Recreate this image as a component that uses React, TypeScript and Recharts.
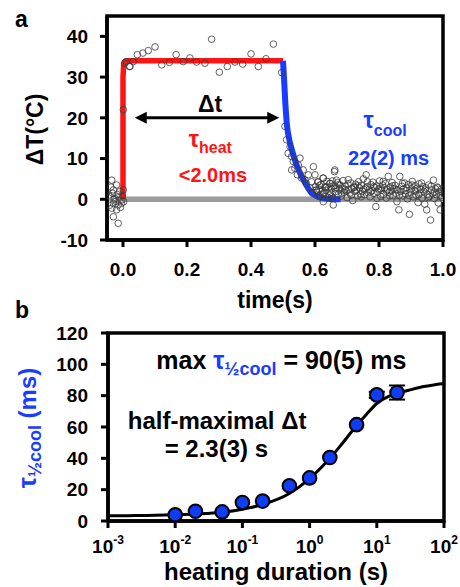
import React from 'react';
import {
  ComposedChart, Line, Scatter, XAxis, YAxis, ReferenceArea, ReferenceLine,
  ReferenceDot, ErrorBar, Label,
} from 'recharts';

const FONT = '"Liberation Sans", Arial, sans-serif';
const BLUE = '#1a3cff';
const DOT_BLUE = '#0f3cf5';
const RED = '#ff1414';
const GRAY = '#9b9b9b';

// ---------- Panel a data ----------
const timeTicks = [0, 0.2, 0.4, 0.6, 0.8, 1.0];
const tempTicks = [-10, 0, 10, 20, 30, 40];

const heatTimes = [0, 0, 0.002, 0.006, 0.012, 0.5];
const heatTemps = [0, 30, 33, 33.8, 34, 34];

const coolTimes = [0.5, 0.503, 0.507, 0.512, 0.52, 0.53, 0.54, 0.55, 0.5625, 0.575, 0.585, 0.6, 0.615, 0.64, 0.68];
const coolTemps = [34, 30, 24, 18.5, 14.5, 11.5, 9, 7, 5, 3.2, 2, 1.0, 0.5, 0.15, 0];

const baseTimes = [0, 1.0];
const baseTemps = [0, 0];

const measured: [number, number][] = [
  // before heating
  [-0.045, 1.0], [-0.042, -1.5], [-0.04, 0.6], [-0.038, 3.0], [-0.035, 4.7], [-0.035, -2.2],
  [-0.033, 1.5], [-0.03, 2.3], [-0.03, -1.0], [-0.03, -4.3], [-0.028, 0.0], [-0.025, 0.2],
  [-0.022, -0.5], [-0.02, 3.5], [-0.02, -2.6], [-0.018, 1.2], [-0.015, 0.6], [-0.015, -1.4],
  [-0.015, -5.9], [-0.012, -0.3], [-0.01, 1.9], [-0.008, -2.0], [-0.005, -1.0], [-0.004, -0.2],
  [-0.002, 0.8], [0.001, 2.3], [0.002, -0.6],
  // heating plateau
  [0.001, 22], [0.005, 33.4], [0.01, 33.8], [0.022, 32.6], [0.032, 33.8], [0.02, 32.6],
  [0.045, 35.5], [0.062, 35.9], [0.079, 36.5], [0.1, 37.4], [0.121, 33.0], [0.145, 33.6],
  [0.166, 35.5], [0.188, 33.8], [0.209, 34.7], [0.23, 33.7], [0.256, 33.4], [0.277, 39.3],
  [0.301, 31.2], [0.326, 32.6], [0.35, 33.7], [0.374, 33.2], [0.4, 35.7], [0.423, 32.6],
  [0.447, 34.5], [0.47, 38.1], [0.496, 31.1],
  // cooling
  [0.506, 17.9], [0.511, 14.6], [0.516, 11.3], [0.522, 12.9], [0.527, 10.5], [0.527, 7.2],
  [0.532, 9.3], [0.537, 7.6], [0.545, 6.0], [0.548, 8.4], [0.553, 10.1], [0.558, 5.2],
  [0.563, 7.2], [0.568, 4.8], [0.573, 3.9], [0.579, 6.0], [0.585, 2.8], [0.589, 4.3],
  [0.592, 1.5], [0.595, 8.0], [0.6, 6.0], [0.604, 2.3], [0.61, 4.3], [0.615, 0.6],
  [0.626, 5.2], [0.626, -0.6], [0.636, 3.1], [0.647, 3.9], [0.652, 0.6], [0.657, -1.4],
  [0.662, 7.2], [0.667, 4.7],
  // tail
  [0.602, 3.1], [0.606, 1.8], [0.609, 4.2], [0.612, 2.5], [0.616, 0.9], [0.619, 3.6],
  [0.622, 2.0], [0.625, 5.2], [0.628, 1.4], [0.631, 3.0], [0.634, 2.2], [0.637, 4.4],
  [0.64, 0.5], [0.643, 2.8], [0.646, 3.9], [0.649, 1.6], [0.652, 2.6], [0.655, 0.2],
  [0.658, 3.3], [0.661, 6.8], [0.664, 1.9], [0.667, 2.9], [0.67, 4.1], [0.673, 1.2],
  [0.676, 2.4], [0.679, 3.5], [0.682, 0.8], [0.685, 2.7], [0.688, 4.6], [0.691, 1.7],
  [0.694, 3.2], [0.697, 2.1], [0.7, 0.4], [0.703, 3.8], [0.706, 2.3], [0.709, 1.5],
  [0.712, 4.0], [0.715, 2.6], [0.718, -0.3], [0.721, 3.0], [0.724, 1.9], [0.727, 3.7],
  [0.73, 2.2], [0.733, 0.9], [0.736, 4.3], [0.739, 2.8], [0.742, 1.3], [0.745, 3.4],
  [0.748, 2.0], [0.751, 5.0], [0.754, 1.1], [0.757, 2.7], [0.76, 6.0], [0.763, 3.1],
  [0.766, 1.6], [0.769, 2.4], [0.772, 0.6], [0.775, 3.6], [0.778, 2.1], [0.781, 4.2],
  [0.784, 1.4], [0.787, 2.9], [0.79, -1.8], [0.793, 3.3], [0.796, 1.8], [0.799, 2.5],
  [0.802, 4.5], [0.805, 0.7], [0.808, 2.2], [0.811, 3.5], [0.814, 1.2], [0.817, 2.8],
  [0.82, 3.9], [0.823, 0.3], [0.826, 2.4], [0.829, 5.6], [0.832, 1.7], [0.835, 3.0],
  [0.838, 2.0], [0.841, 4.1], [0.844, 0.9], [0.847, 2.6], [0.85, 3.4], [0.853, 1.5],
  [0.856, -0.6], [0.859, 2.3], [0.862, -2.6], [0.865, 5.6], [0.868, 1.9], [0.871, 3.2],
  [0.874, 0.8], [0.877, 2.5], [0.88, 4.0], [0.883, 1.3], [0.886, 2.9], [0.889, 0.1],
  [0.892, 3.6], [0.895, -3.7], [0.898, 1.7], [0.901, 2.6], [0.904, 4.4], [0.907, 0.6],
  [0.91, 2.2], [0.913, 3.3], [0.916, 1.0], [0.919, 2.7], [0.922, -0.8], [0.925, 3.8],
  [0.928, 1.5], [0.931, 2.4], [0.934, 0.3], [0.937, 3.1], [0.94, 1.9], [0.943, -1.2],
  [0.946, 2.8], [0.949, -2.6], [0.952, 1.2], [0.955, 3.5], [0.958, 0.7], [0.961, -5.1],
  [0.964, 2.3], [0.967, 1.4], [0.97, 4.7], [0.973, 0.2], [0.976, 2.6], [0.979, 1.1],
  [0.982, 3.0], [0.985, -0.9], [0.988, 1.8], [0.991, -2.6], [0.994, 2.4], [0.997, 0.5],
  [1.0, 1.6],
  [0.604, 2.2], [0.614, 3.4], [0.624, 1.2], [0.633, 2.9], [0.645, 1.0], [0.654, 4.5],
  [0.663, 2.6], [0.674, 3.6], [0.684, 1.5], [0.693, 2.4], [0.704, 4.8], [0.713, 1.0],
  [0.723, 2.9], [0.734, 3.3], [0.744, 0.6], [0.753, 2.4], [0.764, 4.3], [0.774, 1.8],
  [0.783, 3.1], [0.794, 0.2], [0.804, 2.6], [0.813, 4.4], [0.824, 2.0], [0.834, 0.8],
  [0.843, 3.3], [0.854, 2.4], [0.864, 1.0], [0.873, 3.9], [0.884, 2.1], [0.894, 0.9],
  [0.903, 3.5], [0.914, 2.0], [0.924, 1.1], [0.933, 4.0], [0.944, 2.3], [0.954, 0.4],
  [0.963, 3.2], [0.974, 1.8], [0.984, 2.8], [0.993, 0.9],
];

// ---------- Panel b data ----------
const durations = [0.01, 0.02, 0.05, 0.1, 0.2, 0.5, 1, 2, 5, 10, 20];
const tauHalf = [4, 6.2, 5.8, 11.8, 12.7, 22.5, 27.5, 40.5, 61.5, 80.5, 82];
const tauErr = [0, 0, 0, 0, 0, 0, 0, 0, 0, 2, 4.5];

const fitDurations = [0.001, 0.002, 0.005, 0.01, 0.02, 0.05, 0.1, 0.2, 0.5, 1, 2, 3, 5, 7, 10, 15, 20, 30, 50, 100];
const fitTau = [3.3, 3.4, 3.6, 4.0, 4.5, 5.6, 7.5, 10.5, 17.5, 27, 40, 49, 61, 68, 75, 79.5, 81.5, 83.5, 85.8, 87.8];

const durTicks = [0.001, 0.01, 0.1, 1, 10, 100];
const durTickExp = ['-3', '-2', '-1', '0', '1', '2'];
const tauTicks = [0, 20, 40, 60, 80, 100, 120];

// ---------- derived tables ----------
const heatData = heatTimes.map((t, i) => ({ t, v: heatTemps[i] }));
const coolData = coolTimes.map((t, i) => ({ t, v: coolTemps[i] }));
const baseData = baseTimes.map((t, i) => ({ t, v: baseTemps[i] }));
const measuredData = measured.map(([t, v]) => ({ t, v }));

const pointData = durations.map((d, i) => ({ d, tau: tauHalf[i], err: tauErr[i] }));
const fitData = fitDurations.map((d, i) => ({ d, tau: fitTau[i] }));

const tickStyle = { fontSize: 19, fontWeight: 'bold', fill: '#000', fontFamily: FONT };

const OpenCircle = (p: any) => (
  <circle cx={p.cx} cy={p.cy} r={3.3} fill="none" stroke="#3a3a3a" strokeWidth={0.8} />
);
const BlueDot = (p: any) => (
  <circle cx={p.cx} cy={p.cy} r={6.8} fill={DOT_BLUE} stroke="#000" strokeWidth={2} />
);

const txt = (extra: any = {}) => ({ fontFamily: FONT, fontWeight: 'bold', ...extra });

const LogTick = (props: any) => {
  const { x, y, payload } = props;
  const idx = durTicks.indexOf(payload.value);
  return (
    <text x={x} y={y + 23} textAnchor="middle" {...txt({ fill: '#000' })}>
      <tspan fontSize={19}>10</tspan>
      <tspan fontSize={12} dy={-9}>{durTickExp[idx]}</tspan>
    </text>
  );
};

const arrowLeft = (p: any) => (
  <polygon points={`${p.cx - 2},${p.cy} ${p.cx + 10},${p.cy - 6} ${p.cx + 10},${p.cy + 6}`} fill="#000" />
);
const arrowRight = (p: any) => (
  <polygon points={`${p.cx + 2},${p.cy} ${p.cx - 10},${p.cy - 6} ${p.cx - 10},${p.cy + 6}`} fill="#000" />
);

export default function App() {
  return (
    <div style={{ position: 'absolute', left: 0, top: 0, width: 460, height: 587, background: '#fff' }}>
      {/* Panel a */}
      <div style={{ position: 'absolute', left: 0, top: 0 }}>
        <ComposedChart width={460} height={320} margin={{ top: 16, right: 17, left: 0, bottom: 20 }}>
          <XAxis
            dataKey="t" type="number" domain={[-0.05, 1.0]} ticks={timeTicks} allowDataOverflow
            tickFormatter={(v: number) => v.toFixed(1)}
            axisLine={{ stroke: '#000', strokeWidth: 3.5 }} tickLine={{ stroke: '#000', strokeWidth: 3 }}
            tickSize={7} tickMargin={16} tick={tickStyle} height={60} interval={0}
          >
            <Label content={(p: any) => {
              const vb = p.viewBox;
              return (
                <text x={vb.x + vb.width / 2} y={vb.y + 68} textAnchor="middle" fontSize={23} {...txt({ fill: '#000' })}>time(s)</text>
              );
            }} />
          </XAxis>
          <YAxis
            type="number" domain={[-10, 45]} ticks={tempTicks} allowDataOverflow width={107}
            axisLine={{ stroke: '#000', strokeWidth: 3.5 }} tickLine={{ stroke: '#000', strokeWidth: 3 }}
            tickSize={7} tickMargin={12} tick={tickStyle} interval={0}
          >
            <Label content={(p: any) => {
              const vb = p.viewBox;
              const cy = vb.y + vb.height / 2 + 1.5;
              return (
                <g>
                  <text x={15} y={27} fontSize={23} {...txt({ fill: '#000' })}>a</text>
                  <text x={35} y={cy} dy="0.35em" transform={`rotate(-90 35 ${cy})`} textAnchor="middle" fontSize={23} {...txt({ fill: '#000' })}>ΔT(°C)</text>
                </g>
              );
            }} />
          </YAxis>
          <ReferenceArea x1={-0.05} x2={1.0} y1={-10} y2={45} fill="none" stroke="#000" strokeWidth={3.5} ifOverflow="visible" />
          <Line data={baseData} dataKey="v" type="linear" stroke={GRAY} strokeWidth={5.5} dot={false} activeDot={false} isAnimationActive={false} />
          <Line data={heatData} dataKey="v" type="linear" stroke={RED} strokeWidth={5.5} dot={false} activeDot={false} isAnimationActive={false} strokeLinejoin="round" />
          <Line data={coolData} dataKey="v" type="monotone" stroke={BLUE} strokeWidth={6} dot={false} activeDot={false} isAnimationActive={false} />
          <Scatter data={measuredData} dataKey="v" shape={OpenCircle} isAnimationActive={false} />
          <ReferenceLine segment={[{ x: 0.05, y: 20 }, { x: 0.475, y: 20 }]} stroke="#000" strokeWidth={3} />
          <ReferenceDot x={0.043} y={20} r={0} shape={arrowLeft} />
          <ReferenceDot x={0.482} y={20} r={0} shape={arrowRight} />
          <ReferenceDot x={0.272} y={21.5} r={0} shape={(p: any) => (
            <text x={p.cx} y={p.cy} textAnchor="middle" fontSize={23} {...txt({ fill: '#000' })}>Δt</text>
          )} />
          <ReferenceDot x={0.273} y={12.9} r={0} shape={(p: any) => (
            <text x={p.cx} y={p.cy} textAnchor="middle" {...txt({ fill: RED })}>
              <tspan fontSize={23}>τ</tspan>
              <tspan fontSize={16} dy={6}>heat</tspan>
            </text>
          )} />
          <ReferenceDot x={0.281} y={4.3} r={0} shape={(p: any) => (
            <text x={p.cx} y={p.cy} textAnchor="middle" fontSize={20} {...txt({ fill: RED })}>&lt;2.0ms</text>
          )} />
          <ReferenceDot x={0.819} y={17.5} r={0} shape={(p: any) => (
            <text x={p.cx} y={p.cy} textAnchor="middle" {...txt({ fill: BLUE })}>
              <tspan fontSize={23}>τ</tspan>
              <tspan fontSize={16} dy={8}>cool</tspan>
            </text>
          )} />
          <ReferenceDot x={0.83} y={8.4} r={0} shape={(p: any) => (
            <text x={p.cx} y={p.cy} textAnchor="middle" fontSize={20} {...txt({ fill: BLUE })}>22(2) ms</text>
          )} />
        </ComposedChart>
      </div>

      {/* Panel b */}
      <div style={{ position: 'absolute', left: 0, top: 290 }}>
        <ComposedChart width={460} height={297} margin={{ top: 43, right: 16, left: 0, bottom: 0 }}>
          <XAxis
            dataKey="d" type="number" scale="log" domain={[0.001, 100]} ticks={durTicks} allowDataOverflow
            axisLine={{ stroke: '#000', strokeWidth: 3.5 }} tickLine={{ stroke: '#000', strokeWidth: 3 }}
            tickSize={7} tickMargin={2} tick={<LogTick />} height={66} interval={0}
          >
            <Label content={(p: any) => {
              const vb = p.viewBox;
              return (
                <text x={vb.x + vb.width / 2} y={vb.y + 59} textAnchor="middle" fontSize={24} {...txt({ fill: '#000' })}>heating duration (s)</text>
              );
            }} />
          </XAxis>
          <YAxis
            type="number" domain={[0, 120]} ticks={tauTicks} allowDataOverflow width={108}
            axisLine={{ stroke: '#000', strokeWidth: 3.5 }} tickLine={{ stroke: '#000', strokeWidth: 3 }}
            tickSize={7} tickMargin={13} tick={tickStyle} interval={0}
          >
            <Label content={(p: any) => {
              const vb = p.viewBox;
              const cy = vb.y + vb.height / 2 + 1;
              return (
                <g>
                  <text x={15} y={28} fontSize={23} {...txt({ fill: '#000' })}>b</text>
                  <text x={30} y={cy} dy="0.35em" transform={`rotate(-90 30 ${cy})`} textAnchor="middle" {...txt({ fill: BLUE })}>
                    <tspan fontSize={25}>τ</tspan>
                    <tspan fontSize={18} dy={5}>½cool</tspan>
                    <tspan fontSize={24} dy={-5}> (ms)</tspan>
                  </text>
                </g>
              );
            }} />
          </YAxis>
          <ReferenceArea x1={0.001} x2={100} y1={0} y2={120} fill="none" stroke="#000" strokeWidth={3.5} ifOverflow="visible" />
          <Line data={fitData} dataKey="tau" type="monotone" stroke="#000" strokeWidth={3} dot={false} activeDot={false} isAnimationActive={false} />
          <Scatter data={pointData} dataKey="tau" shape={BlueDot} isAnimationActive={false}>
            <ErrorBar dataKey="err" direction="y" width={8} strokeWidth={2} stroke="#000" />
          </Scatter>
          <ReferenceDot x={0.38} y={97.3} r={0} shape={(p: any) => (
            <text x={p.cx} y={p.cy} textAnchor="middle" {...txt({ fill: '#000' })}>
              <tspan fontSize={25}>max </tspan>
              <tspan fontSize={25} fill={BLUE}>τ</tspan>
              <tspan fontSize={18} fill={BLUE} dy={6}>½cool</tspan>
              <tspan fontSize={25} dy={-6}> = 90(5) ms</tspan>
            </text>
          )} />
          <ReferenceDot x={0.042} y={59} r={0} shape={(p: any) => (
            <text x={p.cx} y={p.cy} textAnchor="middle" fontSize={24} {...txt({ fill: '#000' })}>half-maximal Δt</text>
          )} />
          <ReferenceDot x={0.041} y={40.9} r={0} shape={(p: any) => (
            <text x={p.cx} y={p.cy} textAnchor="middle" fontSize={24} {...txt({ fill: '#000' })}>= 2.3(3) s</text>
          )} />
        </ComposedChart>
      </div>
    </div>
  );
}
